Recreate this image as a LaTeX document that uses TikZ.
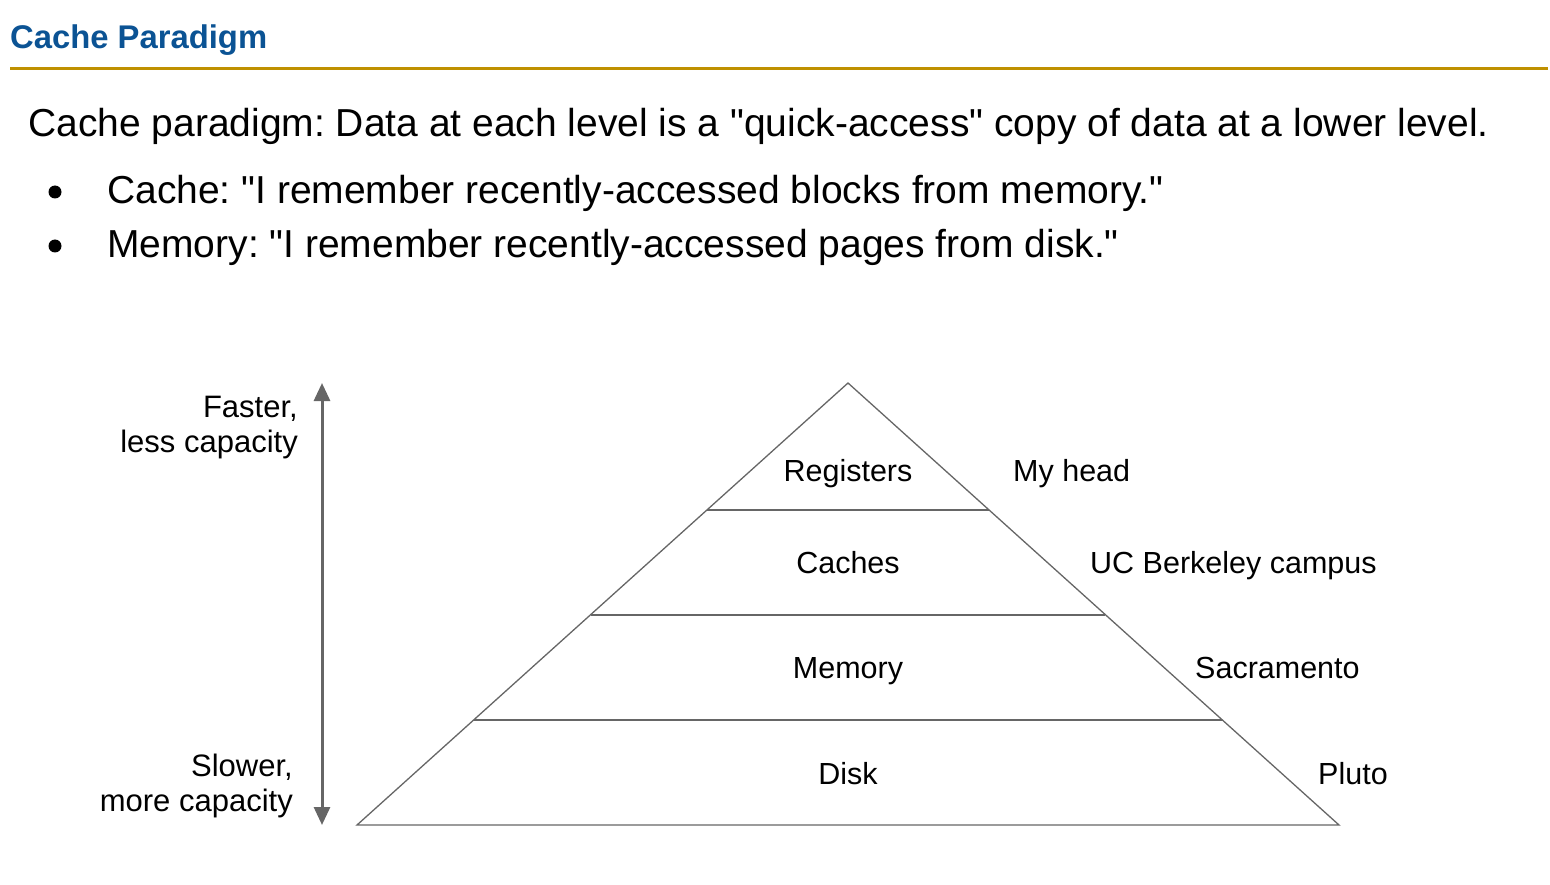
\documentclass[tikz,border=0pt]{standalone}
\usepackage{fontspec}
\setmainfont{Liberation Sans}[Ligatures=TeXOff]
\usetikzlibrary{arrows.meta}
\definecolor{titleblue}{HTML}{0B5394}
\definecolor{rulegold}{HTML}{BF9000}
\definecolor{linegray}{HTML}{666666}
\frenchspacing
\begin{document}
\begin{tikzpicture}[x=1pt,y=-1pt,
  txt/.style={inner sep=0pt,anchor=base west,font=\fontsize{39}{46}\selectfont},
  lvl/.style={inner sep=0pt,anchor=base,font=\fontsize{30.5}{36}\selectfont},
  rlab/.style={inner sep=0pt,anchor=base west,font=\fontsize{30.5}{36}\selectfont},
  llab/.style={inner sep=0pt,anchor=base east,font=\fontsize{31}{36}\selectfont},
  pyr/.style={draw=linegray,line width=1.3pt},
  bul/.style={circle,fill=black,inner sep=0pt,minimum size=13pt}]
\useasboundingbox (0,0) rectangle (1550,885);
\node[inner sep=0pt,anchor=base west,text=titleblue,font=\fontsize{32.8}{38}\selectfont\bfseries] (title) at (10,49) {Cache Paradigm};
\coordinate (r1) at (10,69); \coordinate (r2) at (1548,69);
\draw[rulegold,line width=3pt] (r1) -- (r2);
\node[txt] (main) at (28,137) {Cache paradigm: Data at each level is a "quick-access" copy of data at a lower level.};
\node[bul] (b1) at (55,192) {};
\node[txt] (t1) at (107,204) {Cache: "I remember recently-accessed blocks from memory."};
\node[bul] (b2) at (55,246) {};
\node[txt] (t2) at (107,258) {Memory: "I remember recently-accessed pages from disk."};
% pyramid
\coordinate (apex) at (848,383);
\coordinate (bl) at (357,825);
\coordinate (br) at (1339,825);
\draw[pyr] (apex) -- (br) -- (bl) -- cycle;
\coordinate (l1a) at (707,510); \coordinate (l1b) at (989,510);
\coordinate (l2a) at (591,615); \coordinate (l2b) at (1105,615);
\coordinate (l3a) at (474,720); \coordinate (l3b) at (1222,720);
\draw[pyr] (l1a) -- (l1b);
\draw[pyr] (l2a) -- (l2b);
\draw[pyr] (l3a) -- (l3b);
\node[lvl] (reg) at (848,481) {Registers};
\node[lvl] (cac) at (848,573) {Caches};
\node[lvl] (mem) at (848,678) {Memory};
\node[lvl] (dsk) at (848,784) {Disk};
\node[rlab] (myh) at (1013,481) {My head};
\node[rlab] (ucb) at (1090,573) {UC Berkeley campus};
\node[rlab] (sac) at (1195,678) {Sacramento};
\node[rlab] (plu) at (1318,784) {Pluto};
% arrow
\coordinate (atop) at (322,383);
\coordinate (abot) at (322,825);
\draw[linegray,line width=3pt,{Triangle[length=18pt,width=16pt]}-{Triangle[length=18pt,width=16pt]}] (atop) -- (abot);
\node[llab] (f1) at (298,417) {Faster,};
\node[llab] (f2) at (298,452) {less capacity};
\node[llab] (s1) at (293,776) {Slower,};
\node[llab] (s2) at (293,811) {more capacity};
\end{tikzpicture}
\end{document}
